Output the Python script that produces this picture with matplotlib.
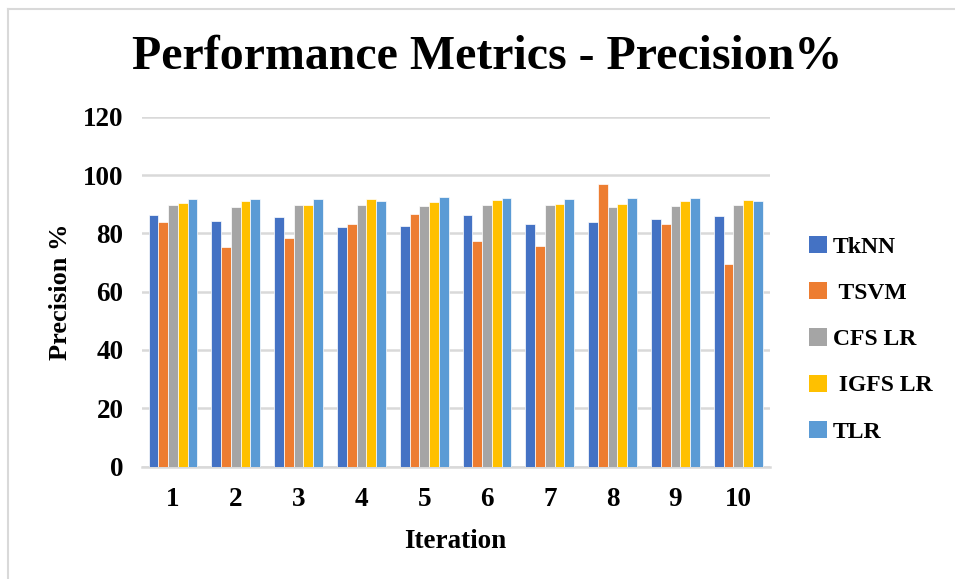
import matplotlib
matplotlib.use("Agg")
import matplotlib.pyplot as plt
import numpy as np
from matplotlib.lines import Line2D
from matplotlib.patches import Patch

iterations = ["1", "2", "3", "4", "5", "6", "7", "8", "9", "10"]
series_names = ["TkNN", " TSVM", "CFS LR", " IGFS LR", "TLR"]
tknn = [86.3, 84.2, 85.5, 82.2, 82.6, 86.3, 83.4, 84.0, 85.0, 85.9]
tsvm = [83.9, 75.3, 78.4, 83.3, 86.7, 77.5, 75.8, 97.0, 83.3, 69.4]
cfs_lr = [89.9, 89.1, 89.9, 89.9, 89.5, 89.7, 89.7, 89.0, 89.3, 89.9]
igfs_lr = [90.6, 91.0, 89.9, 91.8, 90.7, 91.4, 90.3, 90.1, 91.0, 91.4]
tlr = [92.0, 91.7, 91.7, 91.0, 92.7, 92.1, 92.0, 92.3, 92.3, 91.0]
yticks = [0, 20, 40, 60, 80, 100, 120]

colors = ["#4472C4", "#ED7D31", "#A5A5A5", "#FFC000", "#5B9BD5"]
series = [tknn, tsvm, cfs_lr, igfs_lr, tlr]

plt.rcParams['font.family'] = ['Liberation Serif', 'DejaVu Serif']

W, H = 955, 579
fig = plt.figure(figsize=(W / 100, H / 100), dpi=100)
ax = fig.add_axes([141.6 / W, 1 - 466.5 / H, 628 / W, (466.5 - 117) / H])

x = np.arange(len(iterations))
bw = 0.155
for i, (vals, c) in enumerate(zip(series, colors)):
    ax.bar(x + (i - 2) * bw, vals, width=bw, color=c, edgecolor="white",
           linewidth=0.5, zorder=3)

ax.set_xlim(-0.5, len(iterations) - 0.5)
ax.set_ylim(0, 120)
ax.set_yticks(yticks)
ax.set_yticklabels([str(v) for v in yticks])
ax.set_xticks(x)
ax.set_xticklabels(iterations)
ax.grid(axis="y", color="#D9D9D9", linewidth=1.8, zorder=0)
for s in ["top", "right", "left"]:
    ax.spines[s].set_visible(False)
ax.spines["bottom"].set_color("#D9D9D9")
ax.spines["bottom"].set_linewidth(1.8)
ax.tick_params(axis="both", length=0, labelsize=19.5)
ax.tick_params(axis="y", pad=13)
ax.tick_params(axis="x", pad=15)
for lab in ax.get_xticklabels() + ax.get_yticklabels():
    lab.set_fontweight("bold")

ax.set_xlabel("Iteration", fontsize=19.5, fontweight="bold", labelpad=12)
ax.set_ylabel("Precision %", fontsize=19, fontweight="bold", labelpad=8)

fig.text(487 / W, 1 - 57 / H, "Performance Metrics - Precision%",
         ha="center", va="center", fontsize=34.5, fontweight="bold")

handles = [Patch(facecolor=c, edgecolor="none") for c in colors]
leg = fig.legend(handles, series_names, loc="upper left",
                 bbox_to_anchor=(809 / W, 1 - 236 / H), frameon=False,
                 borderpad=0, borderaxespad=0,
                 prop={"size": 17, "weight": "bold"}, handlelength=0.75,
                 handleheight=0.75, handletextpad=0.25, labelspacing=1.03)

fig.add_artist(Line2D([8 / W, 8 / W], [0, 1 - 8.5 / H], color="#D9D9D9",
                      linewidth=1.5, transform=fig.transFigure))
fig.add_artist(Line2D([8 / W, 1], [1 - 8.5 / H, 1 - 8.5 / H], color="#D9D9D9",
                      linewidth=1.5, transform=fig.transFigure))

fig.savefig("out.png", dpi=100)
